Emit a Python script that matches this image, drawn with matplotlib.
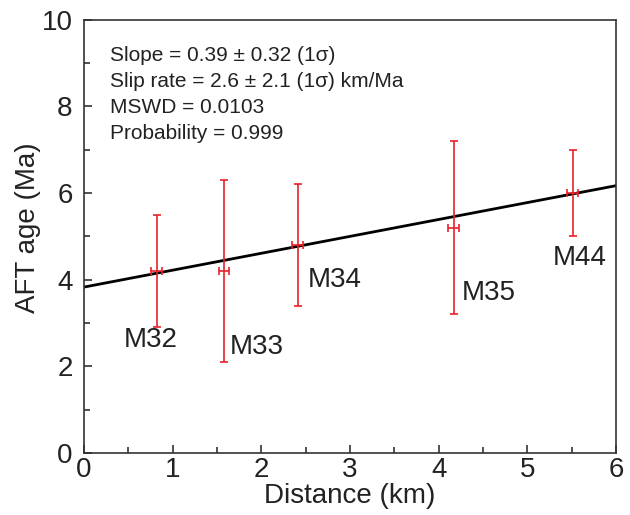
import matplotlib
matplotlib.use('Agg')
import matplotlib.pyplot as plt
from matplotlib.ticker import MultipleLocator

plt.rcParams['font.family'] = ['Liberation Sans', 'DejaVu Sans']

# sample data
samples = ['M32', 'M33', 'M34', 'M35', 'M44']
distance = [0.82, 1.58, 2.41, 4.17, 5.51]
dist_err = [0.06, 0.06, 0.06, 0.06, 0.06]
age = [4.2, 4.2, 4.8, 5.2, 6.0]
age_lo = [2.9, 2.1, 3.4, 3.2, 5.0]
age_hi = [5.5, 6.3, 6.2, 7.2, 7.0]
label_pos = [(0.75, 2.6), (1.95, 2.45), (2.83, 4.0), (4.56, 3.7), (5.59, 4.5)]

intercept = 3.83
slope = 0.39

stats = ['Slope = 0.39 \u00b1 0.32 (1\u03c3)',
         'Slip rate = 2.6 \u00b1 2.1 (1\u03c3) km/Ma',
         'MSWD = 0.0103',
         'Probability = 0.999']

fig = plt.figure(figsize=(6.3, 5.15), dpi=100)
ax = fig.add_axes([0.133, 0.12, 0.845, 0.842])

# fitted line
xs = [0, 6]
ax.plot(xs, [intercept + slope * x for x in xs], color='black', lw=2)

yerr = [[a - l for a, l in zip(age, age_lo)], [h - a for a, h in zip(age, age_hi)]]
ax.errorbar(distance, age, xerr=dist_err, yerr=yerr, fmt='none',
            ecolor='#e8202a', elinewidth=1.2, capsize=3, capthick=1.2)

for name, (lx, ly) in zip(samples, label_pos):
    ax.text(lx, ly, name, ha='center', va='center', fontsize=20, color='#222222')

for i, s in enumerate(stats):
    ax.text(0.3, 9.17 - i * 0.6, s, ha='left', va='center', fontsize=15, color='#222222')

ax.set_xlim(0, 6)
ax.set_ylim(0, 10)
ax.xaxis.set_major_locator(MultipleLocator(1))
ax.xaxis.set_minor_locator(MultipleLocator(0.5))
ax.yaxis.set_major_locator(MultipleLocator(2))
ax.yaxis.set_minor_locator(MultipleLocator(1))
ax.tick_params(which='both', direction='in', top=False, right=False,
               labelsize=20, width=1.2, color='#333333', labelcolor='#222222')
ax.tick_params(which='major', length=6)
ax.tick_params(which='minor', length=4)
ax.tick_params(axis='y', pad=8)
ax.tick_params(axis='x', pad=3)
for sp in ax.spines.values():
    sp.set_linewidth(1.2)
    sp.set_color('#333333')

ax.set_xlabel('Distance (km)', fontsize=20, labelpad=0, color='#222222')
ax.set_ylabel('AFT age (Ma)', fontsize=20, color='#222222')
ax.yaxis.set_label_coords(-0.08, 0.52)

fig.savefig('out.png', dpi=100)
